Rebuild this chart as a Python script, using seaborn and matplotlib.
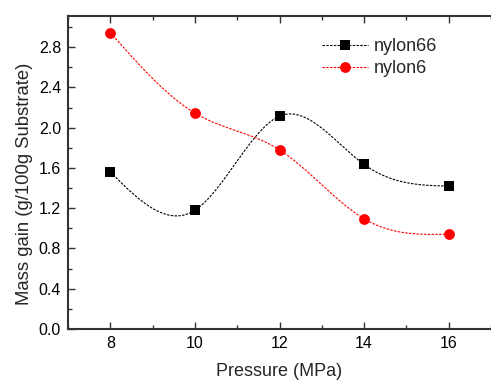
import numpy as np
import pandas as pd
import matplotlib
matplotlib.use("Agg")
import matplotlib.pyplot as plt
import seaborn as sns
from matplotlib.ticker import MultipleLocator, FormatStrFormatter

pressure = [8, 10, 12, 14, 16]
nylon66 = [1.56, 1.18, 2.115, 1.635, 1.42]
nylon6 = [2.945, 2.145, 1.78, 1.095, 0.943]
series_names = ["nylon66", "nylon6"]


def natural_spline(x, y, xs):
    x = np.asarray(x, float)
    y = np.asarray(y, float)
    n = len(x)
    h = np.diff(x)
    A = np.zeros((n, n))
    b = np.zeros(n)
    A[0, 0] = A[-1, -1] = 1.0
    for i in range(1, n - 1):
        A[i, i - 1] = h[i - 1]
        A[i, i] = 2 * (h[i - 1] + h[i])
        A[i, i + 1] = h[i]
        b[i] = 6 * ((y[i + 1] - y[i]) / h[i] - (y[i] - y[i - 1]) / h[i - 1])
    M = np.linalg.solve(A, b)
    idx = np.clip(np.searchsorted(x, xs) - 1, 0, n - 2)
    x0, x1 = x[idx], x[idx + 1]
    hh = x1 - x0
    t0, t1 = x1 - xs, xs - x0
    return (M[idx] * t0**3 / (6 * hh) + M[idx + 1] * t1**3 / (6 * hh)
            + (y[idx] / hh - M[idx] * hh / 6) * t0
            + (y[idx + 1] / hh - M[idx + 1] * hh / 6) * t1)


sns.set_style("ticks")
plt.rcParams["font.family"] = ["Liberation Sans", "DejaVu Sans"]

fig = plt.figure(figsize=(4.91, 3.81), dpi=100)
ax = fig.add_axes([0.1385, 0.1365, 0.8615, 0.8215])

dash = (0, (2.2, 1.2))
xs = np.linspace(min(pressure), max(pressure), 300)
styles = {
    "nylon66": dict(color="black", marker="s", ms=6.8),
    "nylon6": dict(color="red", marker="o", ms=7.8),
}
for name, vals in zip(series_names, [nylon66, nylon6]):
    st = styles[name]
    curve = pd.DataFrame({"x": xs, "y": natural_spline(pressure, vals, xs)})
    sns.lineplot(data=curve, x="x", y="y", ax=ax, color=st["color"],
                 linestyle=dash, linewidth=0.8)
    pts = pd.DataFrame({"x": pressure, "y": vals})
    sns.scatterplot(data=pts, x="x", y="y", ax=ax, color=st["color"],
                    marker=st["marker"], s=st["ms"] ** 2, linewidth=0, zorder=3)

# legend entries: dashed line through marker
handles = [
    plt.Line2D([], [], color=styles[n]["color"], linestyle=dash, linewidth=0.8,
               marker=styles[n]["marker"], markersize=styles[n]["ms"],
               markeredgewidth=0, label=n)
    for n in series_names
]
ax.legend(handles=handles, loc="upper left", bbox_to_anchor=(0.6, 0.93),
          frameon=False, fontsize=13, handlelength=2.55, handletextpad=0.33,
          labelspacing=0.3, borderpad=0, borderaxespad=0)

ax.set_xlim(7, 17)
ax.set_ylim(0, 3.11)
ax.xaxis.set_major_locator(MultipleLocator(2))
ax.xaxis.set_minor_locator(MultipleLocator(1))
ax.yaxis.set_major_locator(MultipleLocator(0.4))
ax.yaxis.set_minor_locator(MultipleLocator(0.2))
ax.yaxis.set_major_formatter(FormatStrFormatter("%.1f"))
ax.tick_params(which="both", direction="in", top=True, right=False,
               color="#333333", labelsize=11.5, labelcolor="black")
ax.tick_params(which="major", length=5, width=1.0, pad=5)
ax.tick_params(which="minor", length=3, width=1.0)

for side in ["left", "bottom", "top"]:
    ax.spines[side].set_linewidth(1.5)
    ax.spines[side].set_color("#333333")
ax.spines["right"].set_visible(False)

ax.set_xlabel("Pressure (MPa)", fontsize=13)
ax.set_ylabel("Mass gain (g/100g Substrate)", fontsize=13.3)
ax.xaxis.set_label_coords(0.5, -0.11)
ax.yaxis.set_label_coords(-0.083, 0.463)

fig.savefig("out.png", dpi=100)
